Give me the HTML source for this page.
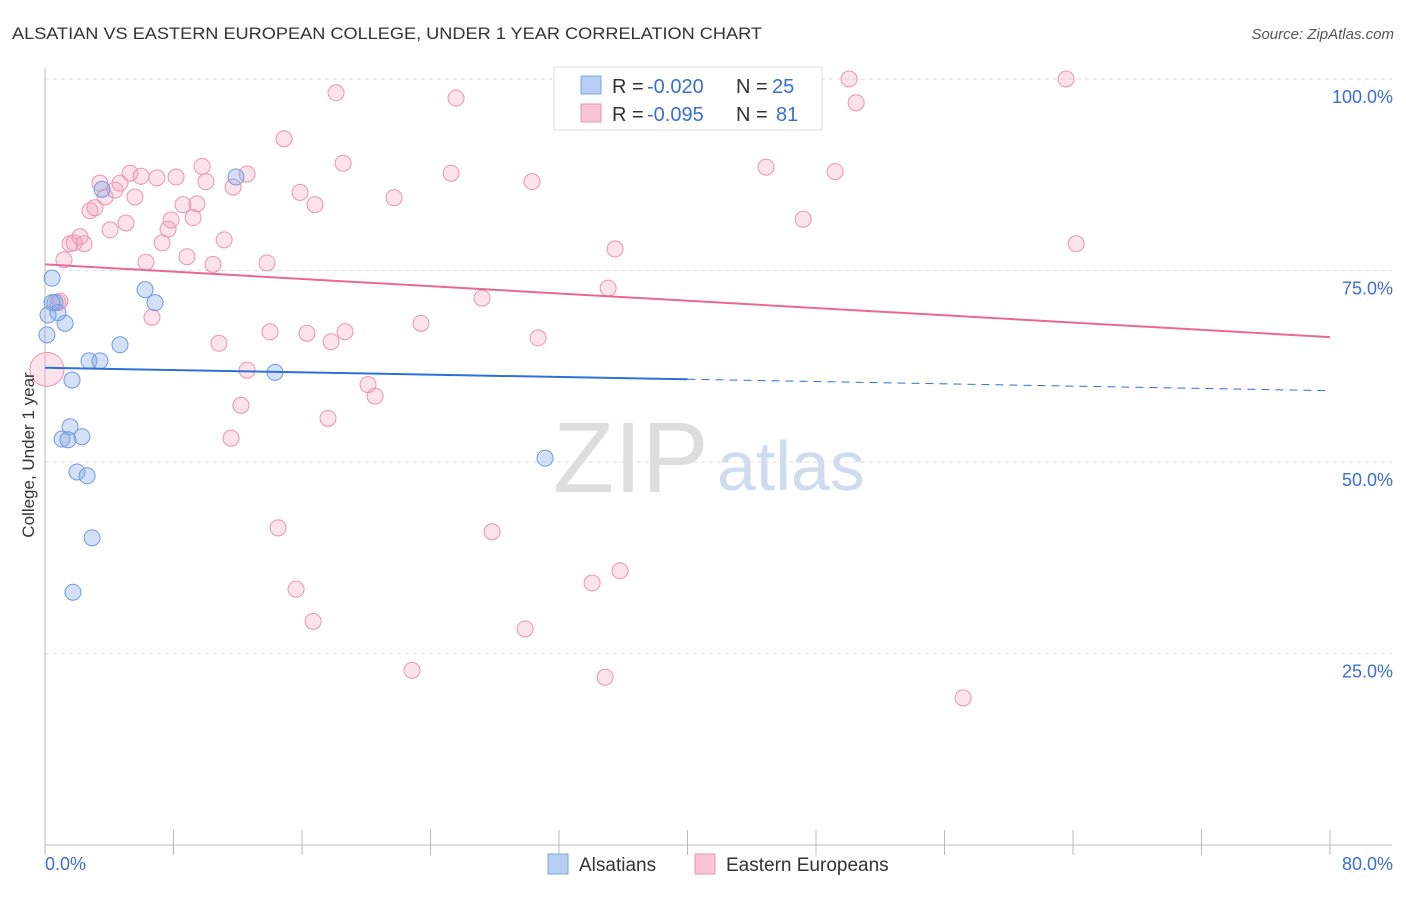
<!DOCTYPE html>
<html><head><meta charset="utf-8"><style>
body{margin:0;background:#fff;font-family:"Liberation Sans",sans-serif;}
svg text{font-family:"Liberation Sans",sans-serif;}
</style></head><body>
<svg id="chart" width="1406" height="892" xmlns="http://www.w3.org/2000/svg">
<text x="12" y="39" font-size="17" fill="#333" textLength="750" lengthAdjust="spacingAndGlyphs">ALSATIAN VS EASTERN EUROPEAN COLLEGE, UNDER 1 YEAR CORRELATION CHART</text>
<text x="1394" y="39" font-size="15" fill="#555" text-anchor="end" font-style="italic">Source: ZipAtlas.com</text>
<g>
<text x="553" y="492" font-size="100" fill="#ddd" font-family="Liberation Serif,serif">ZIP</text>
<text x="717" y="490" font-size="70" fill="#cfdcf0">atlas</text>
</g>
<g id="grid"></g>
<g id="axes"></g>
<g id="marks"></g>
<text transform="translate(34,455) rotate(-90)" font-size="17" fill="#333" text-anchor="middle">College, Under 1 year</text>
<g>
<rect x="554" y="67" width="268" height="63" fill="#fff" stroke="#ddd"/>
<rect x="581" y="76" width="20" height="18" fill="#b7cdf3" stroke="#7fa6e6"/>
<rect x="581" y="104" width="20" height="18" fill="#f8c4d4" stroke="#ea93b0"/>
<text y="93" font-size="20" fill="#333"><tspan x="612">R =</tspan><tspan x="647" fill="#3a6fd0">-0.020</tspan><tspan x="736">N =</tspan><tspan x="772" fill="#3a6fd0">25</tspan></text>
<text y="121" font-size="20" fill="#333"><tspan x="612">R =</tspan><tspan x="647" fill="#3a6fd0">-0.095</tspan><tspan x="736">N =</tspan><tspan x="776" fill="#3a6fd0">81</tspan></text>
</g>
<g>
<rect x="548" y="854" width="20" height="20" fill="#b7cdf3" stroke="#7fa6e6"/>
<text x="579" y="871" font-size="19" fill="#333">Alsatians</text>
<rect x="695" y="854" width="20" height="20" fill="#f8c4d4" stroke="#ea93b0"/>
<text x="726" y="871" font-size="19" fill="#333">Eastern Europeans</text>
</g>
</svg>
<script>
const yTicks=[25,50,75,100];
const yTickLabels=["25.0%","50.0%","75.0%","100.0%"];
const xTickLabels=["0.0%","80.0%"];
const blueX=[0.44,0.62,0.81,1.25,0.12,4.67,2.74,3.42,1.68,6.23,6.85,3.55,11.89,14.32,1.56,1.06,1.43,2.30,1.99,2.62,2.93,1.74,31.13,0.19,0.44];
const blueY=[74.0,70.8,69.5,68.1,66.6,65.3,63.2,63.2,60.7,72.5,70.8,85.6,87.2,61.7,54.6,53.0,52.9,53.3,48.7,48.2,40.1,33.0,50.5,69.2,70.8];
const pinkX=[0.12,1.18,1.56,2.18,2.43,1.81,0.81,0.93,2.80,3.11,3.42,3.74,4.05,4.36,4.67,5.04,5.29,5.60,5.98,6.29,6.66,6.97,7.29,7.66,7.85,8.16,8.59,8.84,9.22,9.46,9.78,10.02,10.46,10.83,11.15,11.71,12.20,11.58,12.58,12.58,13.82,14.01,14.51,14.88,15.63,15.88,16.31,16.69,16.81,17.62,17.81,18.12,18.56,18.68,20.11,20.55,21.73,22.85,23.41,25.28,25.59,27.21,27.83,29.89,30.32,30.70,34.06,34.87,35.06,35.49,35.80,44.89,47.20,49.19,50.06,50.50,57.16,63.57,64.20];
const pinkY=[62.1,76.4,78.5,79.4,78.5,78.6,70.8,71.0,82.8,83.2,86.4,84.6,80.3,85.5,86.4,81.2,87.7,84.6,87.3,76.1,68.9,87.1,78.6,80.4,81.6,87.2,83.6,76.8,81.9,83.7,88.6,86.6,75.8,65.5,79.0,85.9,57.4,53.1,62.0,87.6,76.0,67.0,41.4,92.2,33.4,85.2,66.8,29.2,83.6,55.7,65.7,98.2,89.0,67.0,60.1,58.6,84.5,22.8,68.1,87.7,97.5,71.4,40.9,28.2,86.6,66.2,34.2,21.9,72.7,77.8,35.8,88.5,81.7,87.9,100.0,96.9,19.2,100.0,78.5];
const blueTrend=[62.3,59.3];
const pinkTrend=[75.8,66.3];
const NS="http://www.w3.org/2000/svg";
const X=v=>45+v/80*1285;
const Y=v=>845-v*7.66;
function mk(tag,attrs,parent){const e=document.createElementNS(NS,tag);for(const k in attrs)e.setAttribute(k,attrs[k]);document.getElementById(parent).appendChild(e);return e;}
yTicks.forEach((t,i)=>{
 const g=mk('line',{x1:45,x2:1392,y1:Y(t),y2:Y(t),stroke:'#ddd','stroke-dasharray':'4,4'},'grid');
 
 
 const l=mk('text',{x:1393,y:Y(t)+24,'text-anchor':'end','font-size':18,fill:'#3a6fd0'},'axes');
 l.textContent=yTickLabels[i];
 
 
});
const ax=mk('line',{x1:45,x2:45,y1:68,y2:845,stroke:'#bbb'},'axes');


const bx=mk('line',{x1:45,x2:1392,y1:845,y2:845,stroke:'#bbb'},'axes');


for(let i=0;i<=10;i++){const t=mk('line',{x1:X(i*8),x2:X(i*8),y1:830,y2:855,stroke:'#bbb'},'axes');
 
 }
[[0,'start',45],[80,'end',1393]].forEach((d,i)=>{const t=mk('text',{x:d[2],y:870,'text-anchor':d[1],'font-size':18,fill:'#3a6fd0'},'axes');t.textContent=xTickLabels[i];
 
 });
pinkX.forEach((x,i)=>{const c=mk('circle',{cx:X(x),cy:Y(pinkY[i]),r:i===0?17:8,fill:'rgba(242,160,188,0.3)',stroke:'#eb94b1','stroke-width':1},'marks');
 
 });
blueX.forEach((x,i)=>{const c=mk('circle',{cx:X(x),cy:Y(blueY[i]),r:8,fill:'rgba(130,165,230,0.35)',stroke:'#6f9be0','stroke-width':1},'marks');
 
 });
const bt=v=>blueTrend[0]+(blueTrend[1]-blueTrend[0])*v/80;
const l1=mk('line',{x1:X(0),y1:Y(bt(0)),x2:X(40),y2:Y(bt(40)),stroke:'#2f6fd6','stroke-width':2},'marks');


const l2=mk('line',{x1:X(40),y1:Y(bt(40)),x2:X(80),y2:Y(bt(80)),stroke:'#2f6fd6','stroke-width':1,'stroke-dasharray':'8,6'},'marks');


const l3=mk('line',{x1:X(0),y1:Y(pinkTrend[0]),x2:X(80),y2:Y(pinkTrend[1]),stroke:'#e76a95','stroke-width':2},'marks');


</script>
</body></html>
